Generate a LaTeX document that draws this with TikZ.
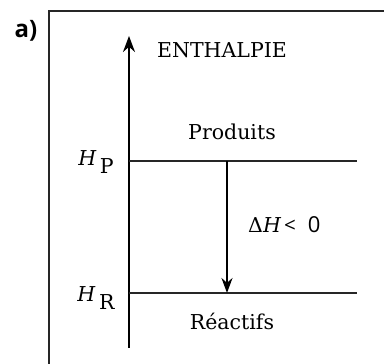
\documentclass[tikz,border=0pt]{standalone}
\usepackage{fontspec}
\setmainfont{DejaVu Serif}
\newfontfamily\labelsans{Open Sans}
\usetikzlibrary{arrows.meta}
\begin{document}
\begin{tikzpicture}[x=1pt,y=1pt,
  lbl/.style={inner sep=0pt,font=\fontsize{20.5}{24}\selectfont},
  level/.style={line width=1.6pt,draw=black!85},
  axis/.style={line width=2pt,-{Stealth[length=16pt,width=12pt]}}]
\useasboundingbox (0,0) rectangle (384,364);
% frame
\draw[line width=1.8pt,black!85] (49,0) -- (49,353) -- (384,353);
% label a)
\node[inner sep=0pt,font=\labelsans\bfseries\fontsize{24}{28}\selectfont] (tag) at (26,333) {a)};
% axis
\coordinate (ax0) at (129,16);
\coordinate (ax1) at (129,328);
\draw[axis] (ax0) -- (ax1);
\node[lbl] (enth) at (222,314) {ENTHALPIE};
% levels
\coordinate (p0) at (129,203);
\coordinate (p1) at (357,203);
\coordinate (r0) at (129,71);
\coordinate (r1) at (357,71);
\draw[level] (p0) -- (p1);
\draw[level] (r0) -- (r1);
\node[lbl] (prod) at (232,232) {Produits};
\node[lbl] (reac) at (232,43) {Réactifs};
\node[lbl] (hp) at (96,202) {\textit{H}\,\raisebox{-8pt}{P}};
\node[lbl] (hr) at (96,66) {\textit{H}\,\raisebox{-8pt}{R}};
% delta arrow
\coordinate (d0) at (227,203);
\coordinate (d1) at (227,71);
\draw[line width=1.9pt,-{Stealth[length=15pt,width=11pt]}] (d0) -- (d1);
\node[lbl,anchor=west] (dh) at (248,139) {Δ\textit{H}\hspace{3pt}{\labelsans <\hspace{12pt}\fontsize{22}{24}\selectfont 0}};
\end{tikzpicture}
\end{document}
